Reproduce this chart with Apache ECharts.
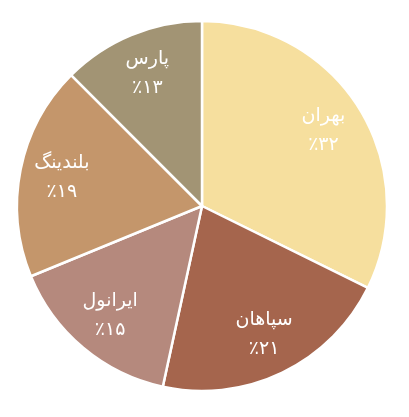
<!DOCTYPE html>
<html>
<head>
<meta charset="utf-8">
<style>
  html, body { margin: 0; padding: 0; background: #fff; }
  #chart { width: 409px; height: 417px; }
</style>
<script src="https://cdn.jsdelivr.net/npm/echarts@6/dist/echarts.min.js"></script>
</head>
<body>
<div id="chart"></div>
<script>
const names = ['بهران', 'سپاهان', 'ایرانول', 'بلندینگ', 'پارس']
// shares; labels show them rounded
const values = [32.3, 21.1, 15.4, 18.7, 12.5]
const colors = ['#F6DF9E', '#A5654D', '#B5897D', '#C4966B', '#A29474']

// persian digits for the labels
const faDigits = '۰۱۲۳۴۵۶۷۸۹'
const toFa = n => String(n).replace(/\d/g, d => faDigits[d])

let chart = echarts.init(document.getElementById('chart'))

let pieData = names.map((n, i) => ({
  name: n,
  value: values[i],
  itemStyle: { color: colors[i] }
}))

let option = {
  animation: false,
  series: [
    {
      type: 'pie',
      center: [202, 206],
      radius: [0, 185],
      startAngle: 90,
      clockwise: true,
      itemStyle: {
        borderColor: '#fff',
        borderWidth: 2.5
      },
      label: { show: false },
      labelLine: { show: false },
      emphasis: { disabled: true },
      data: pieData
    },
    // invisible ring, only used to put the labels further out
    {
      type: 'pie',
      center: [202, 206],
      radius: [100, 180],
      startAngle: 90,
      clockwise: true,
      silent: true,
      itemStyle: { color: 'rgba(0,0,0,0)' },
      label: {
        show: true,
        position: 'inside',
        color: '#fff',
        fontFamily: 'DejaVu Sans',
        fontSize: 19,
        lineHeight: 29,
        formatter: p => p.name + '\n٪' + toFa(Math.round(p.value))
      },
      labelLine: { show: false },
      emphasis: { disabled: true },
      data: pieData.map(d => ({ name: d.name, value: d.value }))
    }
  ]
}

chart.setOption(option)
</script>
</body>
</html>
